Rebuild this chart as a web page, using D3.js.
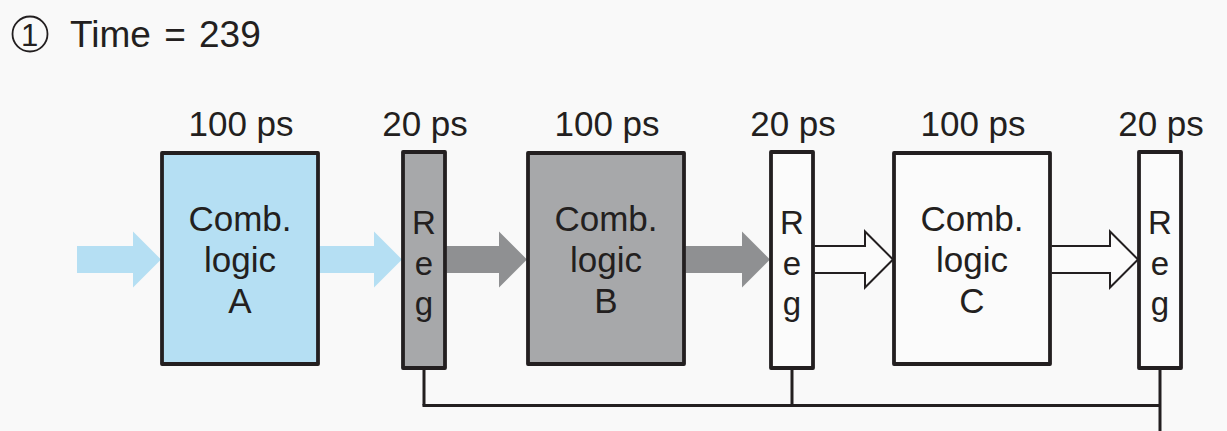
<!DOCTYPE html>
<html>
<head>
<meta charset="utf-8">
<script src="https://cdn.jsdelivr.net/npm/d3@7/dist/d3.min.js"></script>
<style>
  html, body { margin: 0; padding: 0; background: #f9f9f9; }
  svg { display: block; }
  text { font-family: "Liberation Sans", Arial, Helvetica, sans-serif; fill: #231f20; }
</style>
</head>
<body>
<svg id="chart" width="1227" height="431"></svg>
<script>
// ---- data ----
const stepNumber = "1";
const timeLabel = "Time = 239";
const stages = ["A", "B", "C"];
const combDelays = [100, 100, 100];
const regDelays = [20, 20, 20];
const combFills = ["#b5dff3", "#a7a8aa", "#fbfbfb"];
const regFills = ["#a7a8aa", "#fbfbfb", "#fbfbfb"];
// arrows: input to comb, comb to reg for each stage
const arrowFills = ["#b5dff3", "#b5dff3", "#8f9092", "#8f9092", "#fbfbfb", "#fbfbfb"];
const arrowOutlined = [false, false, false, false, true, true];
const regLetters = ["R", "e", "g"];

// ---- layout ----
const svg = d3.select("#chart");
const ink = "#231f20";
const combX = d3.scaleLinear().domain([0, 1]).range([162, 528]); // left edge of comb block
const regX = d3.scaleLinear().domain([0, 1]).range([403, 771]);  // left edge of register
const combW = 156, regW = 42;
const y = d3.scaleLinear().domain([0, 1]).range([152, 368]); // reg full height
const combTop = 153, combBot = 364;
const arrowY = 259.5, shaftH = 13.5, headH = 28, headL = 28;
const inputStart = 77;

// title
svg.append("circle").attr("cx", 30).attr("cy", 34).attr("r", 17.5)
  .attr("fill", "none").attr("stroke", ink).attr("stroke-width", 1.8);
svg.append("text").attr("x", 29.5).attr("y", 46).attr("text-anchor", "middle")
  .attr("font-size", 31).text(stepNumber);
svg.append("text").attr("x", 70).attr("y", 47).attr("font-size", 37)
  .attr("word-spacing", 3).text(timeLabel);

// element positions
const elems = [];
stages.forEach((s, i) => {
  elems.push({type: "comb", x: combX(i), w: combW, fill: combFills[i], name: s, delay: combDelays[i]});
  elems.push({type: "reg", x: regX(i), w: regW, fill: regFills[i], delay: regDelays[i]});
});

// clock wires
const regs = elems.filter(e => e.type === "reg");
const wireY = 405.5;
const wire = svg.append("g").attr("stroke", ink).attr("stroke-width", 3).attr("fill", "none");
regs.forEach((r, i) => {
  const xc = r.x + r.w / 2;
  wire.append("line").attr("x1", xc).attr("x2", xc).attr("y1", y(1))
    .attr("y2", i === regs.length - 1 ? 431 : wireY);
});
wire.append("line").attr("x1", regs[0].x + regW / 2 - 1.5).attr("x2", regs[regs.length - 1].x + regW / 2)
  .attr("y1", wireY).attr("y2", wireY);

// arrows
function arrowPath(x0, x1) {
  const hx = x1 - headL;
  return d3.line()([
    [x0, arrowY - shaftH], [hx, arrowY - shaftH], [hx, arrowY - headH], [x1, arrowY],
    [hx, arrowY + headH], [hx, arrowY + shaftH], [x0, arrowY + shaftH]
  ]);
}
elems.forEach((e, i) => {
  const x0 = i === 0 ? inputStart : elems[i - 1].x + elems[i - 1].w + 1.5;
  const x1 = e.x - 1;
  if (arrowOutlined[i]) {
    svg.append("path").attr("d", arrowPath(x0, x1)).attr("fill", arrowFills[i])
      .attr("stroke", ink).attr("stroke-width", 2).attr("stroke-linejoin", "miter");
  } else {
    svg.append("path").attr("d", arrowPath(x0, x1) + "Z").attr("fill", arrowFills[i]);
  }
});

// blocks
elems.forEach(e => {
  const top = e.type === "comb" ? combTop : y(0);
  const bot = e.type === "comb" ? combBot : y(1);
  svg.append("rect").attr("x", e.x).attr("y", top).attr("width", e.w).attr("height", bot - top)
    .attr("fill", e.fill).attr("stroke", ink).attr("stroke-width", 3.8).attr("stroke-linejoin", "round");
  const cx = e.x + e.w / 2;
  svg.append("text").attr("x", cx + 1).attr("y", 136).attr("text-anchor", "middle")
    .attr("font-size", 35).text(e.delay + " ps");
  if (e.type === "comb") {
    ["Comb.", "logic", e.name].forEach((t, k) => {
      svg.append("text").attr("x", cx).attr("y", 231 + k * 41).attr("text-anchor", "middle")
        .attr("font-size", 35).text(t);
    });
  } else {
    regLetters.forEach((t, k) => {
      svg.append("text").attr("x", cx).attr("y", 234 + k * 40.5).attr("text-anchor", "middle")
        .attr("font-size", 33).text(t);
    });
  }
});
</script>
</body>
</html>
